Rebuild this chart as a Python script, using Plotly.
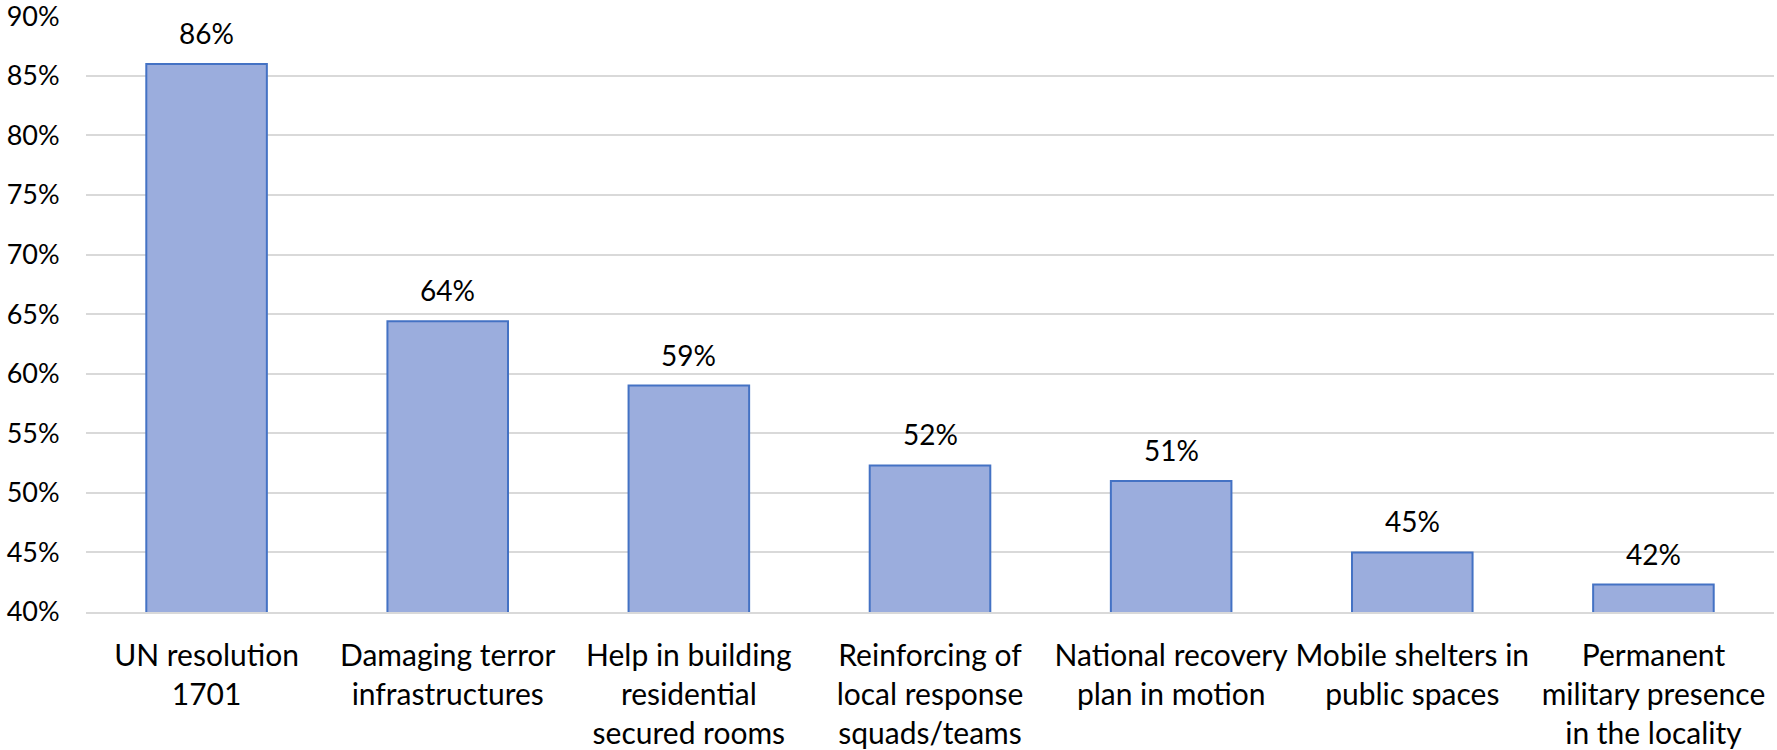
import plotly.graph_objects as go

categories = [
    "UN resolution<br>1701",
    "Damaging terror<br>infrastructures",
    "Help in building<br>residential<br>secured rooms",
    "Reinforcing of<br>local response<br>squads/teams",
    "National recovery<br>plan in motion",
    "Mobile shelters in<br>public spaces",
    "Permanent<br>military presence<br>in the locality",
]
values = [86.0, 64.4, 59.0, 52.3, 51.0, 45.0, 42.3]
tick_vals = [40, 45, 50, 55, 60, 65, 70, 75, 80, 85, 90]
tick_text = [f"{v}%" for v in tick_vals]

FONT = "Lato"
SIZE = 28
fig = go.Figure()
fig.add_trace(go.Bar(
    x=categories, y=values,
    width=0.5,
    marker=dict(color="#9BADDD", line=dict(color="#4472C4", width=2)),
    hoverinfo="skip",
))
for c, v in zip(categories, values):
    fig.add_annotation(x=c, y=v, text=f"{round(v)}%", showarrow=False,
                       yanchor="bottom", yshift=12,
                       font=dict(family=FONT, size=SIZE, color="#000000"))

fig.update_layout(
    width=1777, height=750,
    margin=dict(l=86, r=3, t=16, b=138),
    plot_bgcolor="white", paper_bgcolor="white",
    showlegend=False,
    font=dict(family=FONT, size=SIZE, color="#000000"),
)
fig.update_yaxes(range=[40, 90.02], tickvals=tick_vals, ticktext=tick_text,
                 showgrid=True, gridcolor="#D9D9D9", gridwidth=1.5,
                 zeroline=False, ticks="outside", ticklen=20,
                 tickcolor="rgba(0,0,0,0)", tickfont=dict(size=27),
                 automargin=False, ticklabeloverflow="allow")
fig.update_xaxes(showline=True, linecolor="#D9D9D9", linewidth=1.5,
                 ticks="outside", ticklen=16, tickcolor="rgba(0,0,0,0)",
                 tickfont=dict(size=30), tickangle=0, automargin=False,
                 ticklabeloverflow="allow")

fig.write_html("out.html", config={"displayModeBar": False},
               post_script="document.body.style.margin='0';")
